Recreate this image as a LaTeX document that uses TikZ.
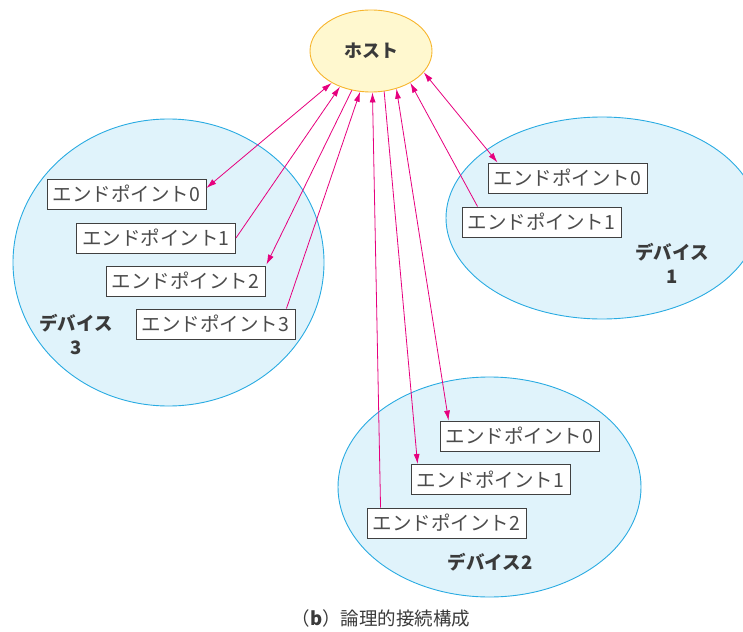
\documentclass[tikz,border=0pt]{standalone}
\usepackage{fontspec}
\setmainfont{Noto Sans CJK JP}
\usetikzlibrary{arrows.meta,shapes.geometric}
\definecolor{mag}{HTML}{E6007E}
\definecolor{devfill}{HTML}{E0F3FB}
\definecolor{devline}{HTML}{29ABE2}
\definecolor{hostfill}{HTML}{FFF8CF}
\definecolor{hostline}{HTML}{F7B52C}
\definecolor{txt}{HTML}{3A3A3A}
\tikzset{
  device/.style={ellipse,draw=devline,fill=devfill,line width=0.9pt,inner sep=0pt},
  hostnode/.style={ellipse,draw=hostline,fill=hostfill,line width=0.9pt,inner sep=0pt,
     minimum width=122pt,minimum height=82pt,font=\fontsize{18}{20}\selectfont\bfseries,text=txt},
  epbox/.style={rectangle,draw=black!75,fill=white,line width=0.9pt,inner sep=0pt,
     minimum width=159pt,minimum height=30pt,font=\fontsize{19.5}{20}\selectfont,text=black!70},
  devlabel/.style={align=center,font=\fontsize{18.5}{24}\selectfont\bfseries,text=txt},
  link/.style={draw=mag,line width=0.8pt},
  tip/.style={-{Latex[length=10pt,width=6pt]}},
  biti/.style={{Latex[length=10pt,width=6pt]}-{Latex[length=10pt,width=6pt]}},
}
\begin{document}
\begin{tikzpicture}[x=1pt,y=-1pt]
\useasboundingbox (0,0) rectangle (743,631);
% devices
\node[device,minimum width=311pt,minimum height=287pt] (dev3) at (168.5,262.5) {};
\node[device,minimum width=312pt,minimum height=202pt] (dev1) at (602,218) {};
\node[device,minimum width=303pt,minimum height=220pt] (dev2) at (489.5,487) {};
% host
\node[hostnode] (host) at (371,51) {ホスト};
% endpoints device 3
\node[epbox] (ep30) at (126.5,194) {エンドポイント0};
\node[epbox] (ep31) at (156,238) {エンドポイント1};
\node[epbox] (ep32) at (185.5,281) {エンドポイント2};
\node[epbox] (ep33) at (215.5,324) {エンドポイント3};
% endpoints device 1
\node[epbox] (ep10) at (567.5,178) {エンドポイント0};
\node[epbox] (ep11) at (541.5,222) {エンドポイント1};
% endpoints device 2
\node[epbox] (ep20) at (519.5,436) {エンドポイント0};
\node[epbox] (ep21) at (490.5,479.5) {エンドポイント1};
\node[epbox] (ep22) at (446.5,523) {エンドポイント2};
% labels
\node[devlabel] (lab3) at (76,335) {デバイス\\3};
\node[devlabel] (lab1) at (672,263.5) {デバイス\\1};
\node[devlabel] (lab2) at (490,562) {デバイス2};
% links
\draw[link,biti] ([yshift=6pt]ep30.east) -- (host.219.3);
\draw[link,tip] (ep31.east) -- (host.229);
\draw[link,tip] (host.244.6) -- ([xshift=1pt,yshift=1pt]ep32.north east);
\draw[link,tip] ([xshift=-9pt]ep33.north east) -- (host.255);
\draw[link,tip] ([xshift=14pt]ep22.north west) -- (host.272.8);
\draw[link,tip] (host.288.9) -- ([xshift=7pt]ep21.north west);
\draw[link,biti] (host.304.7) -- ([xshift=9pt]ep20.north west);
\draw[link,tip] ([xshift=16pt]ep11.north west) -- (host.321.8);
\draw[link,biti] (host.338.6) -- ([xshift=10pt]ep10.north west);
% caption
\node[font=\fontsize{18.5}{20}\selectfont,text=txt] (cap) at (381,618) {（{\bfseries b}）論理的接続構成};
\end{tikzpicture}
\end{document}
